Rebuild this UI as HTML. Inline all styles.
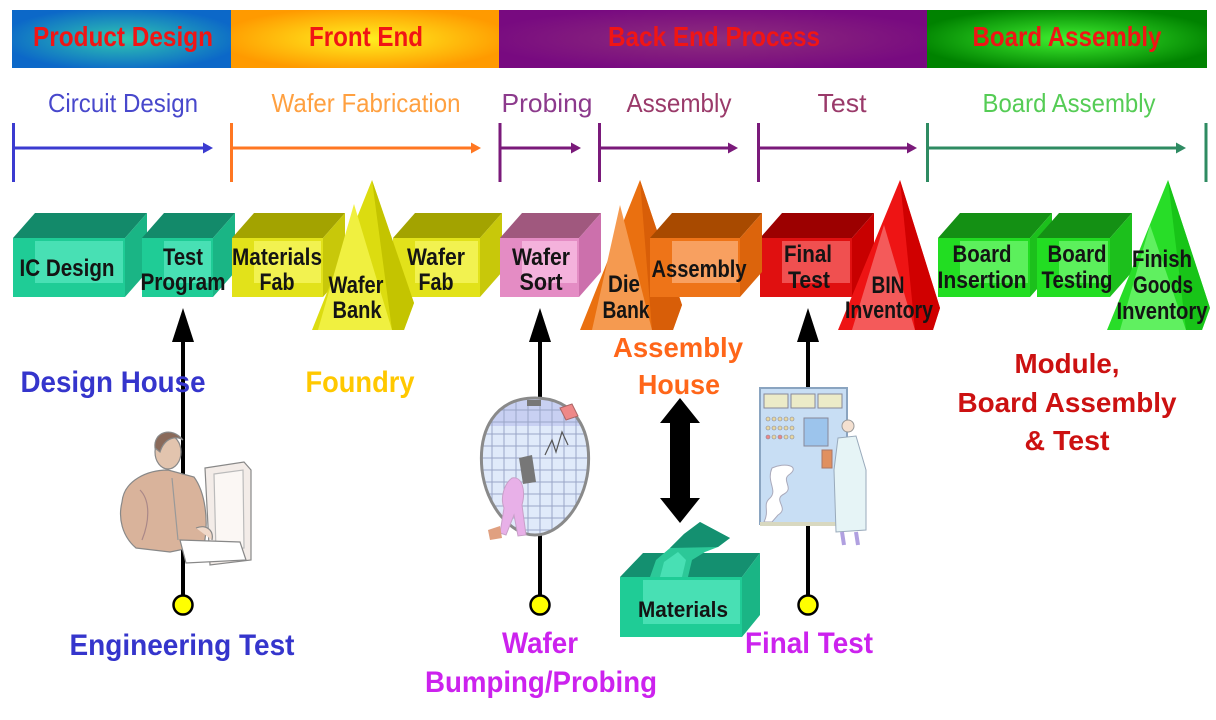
<!DOCTYPE html>
<html><head><meta charset="utf-8">
<style>
html,body{margin:0;padding:0;background:#fff;}
svg{display:block;}
text{font-family:"Liberation Sans",Arial,sans-serif;}
.h{font-size:28px;font-weight:bold;fill:#f01515;}
.s{font-size:26px;}
.b{font-size:24px;font-weight:bold;fill:#141414;}
.l{font-size:30px;font-weight:bold;}
.m{font-size:28px;font-weight:bold;}
</style></head><body>
<svg width="1216" height="720" viewBox="0 0 1216 720" xmlns="http://www.w3.org/2000/svg">
<defs>
<radialGradient id="gPD" cx=".5" cy=".5" r=".55"><stop offset="0" stop-color="#30c8b0"/><stop offset="1" stop-color="#0c68c8"/></radialGradient>
<radialGradient id="gFE" cx=".5" cy=".5" r=".55"><stop offset="0" stop-color="#fff020"/><stop offset="1" stop-color="#ff9a00"/></radialGradient>
<radialGradient id="gBE" cx=".5" cy=".5" r=".55"><stop offset="0" stop-color="#8e2e7c"/><stop offset="1" stop-color="#780a80"/></radialGradient>
<radialGradient id="gBA" cx=".5" cy=".5" r=".55"><stop offset="0" stop-color="#40f030"/><stop offset="1" stop-color="#008200"/></radialGradient>
<clipPath id="globe"><path d="M535,398 C575,398 592,430 588,470 C584,505 560,535 535,535 C510,535 486,505 482,470 C478,430 495,398 535,398 Z"/></clipPath>
</defs>

<!-- header bar -->
<rect x="12" y="10" width="219" height="58" fill="url(#gPD)"/>
<rect x="231" y="10" width="268" height="58" fill="url(#gFE)"/>
<rect x="499" y="10" width="428" height="58" fill="url(#gBE)"/>
<rect x="927" y="10" width="280" height="58" fill="url(#gBA)"/>
<text class="h" x="123" y="46" text-anchor="middle" textLength="180" lengthAdjust="spacingAndGlyphs">Product Design</text>
<text class="h" x="366" y="46" text-anchor="middle" textLength="114" lengthAdjust="spacingAndGlyphs">Front End</text>
<text class="h" x="714" y="46" text-anchor="middle" textLength="212" lengthAdjust="spacingAndGlyphs">Back End Process</text>
<text class="h" x="1067" y="46" text-anchor="middle" textLength="189" lengthAdjust="spacingAndGlyphs">Board Assembly</text>

<!-- sub labels -->
<text class="s" x="123" y="112" fill="#4848cc" text-anchor="middle" textLength="150" lengthAdjust="spacingAndGlyphs">Circuit Design</text>
<text class="s" x="366" y="112" fill="#ffa040" text-anchor="middle" textLength="189" lengthAdjust="spacingAndGlyphs">Wafer Fabrication</text>
<text class="s" x="547" y="112" fill="#8c3a8c" text-anchor="middle" textLength="91" lengthAdjust="spacingAndGlyphs">Probing</text>
<text class="s" x="679" y="112" fill="#9a3a6a" text-anchor="middle" textLength="105" lengthAdjust="spacingAndGlyphs">Assembly</text>
<text class="s" x="842" y="112" fill="#9a3a6a" text-anchor="middle" textLength="49" lengthAdjust="spacingAndGlyphs">Test</text>
<text class="s" x="1069" y="112" fill="#55cc55" text-anchor="middle" textLength="173" lengthAdjust="spacingAndGlyphs">Board Assembly</text>

<!-- timeline arrows -->
<g stroke-width="3" fill="none">
<path d="M13.5 123V182M13 148H204" stroke="#3b3bd0"/>
<path d="M231.5 123V182M231 148H472" stroke="#ff7722"/>
<path d="M500 123V182M500 148H572" stroke="#7a1a7a"/>
<path d="M599.5 123V182M599 148H729" stroke="#7a1a7a"/>
<path d="M758.5 123V182M758 148H908" stroke="#7a1a7a"/>
<path d="M927.5 123V182M927 148H1177M1206 123V182" stroke="#2e8b62"/>
</g>
<polygon points="213,148 203,142.5 203,153.5" fill="#3b3bd0"/>
<polygon points="481,148 471,142.5 471,153.5" fill="#ff7722"/>
<polygon points="581,148 571,142.5 571,153.5" fill="#7a1a7a"/>
<polygon points="738,148 728,142.5 728,153.5" fill="#7a1a7a"/>
<polygon points="917,148 907,142.5 907,153.5" fill="#7a1a7a"/>
<polygon points="1186,148 1176,142.5 1176,153.5" fill="#2e8b62"/>

<!-- boxes -->
<!-- IC Design -->
<g>
<polygon points="13,238 35,213 147,213 125,238" fill="#138a6a"/>
<polygon points="125,238 147,213 147,272 125,297" fill="#1ab585"/>
<rect x="13" y="238" width="112" height="59" fill="#1fcc96"/>
<rect x="35" y="241" width="88" height="42" fill="#48e0b4"/>
</g>
<!-- Test Program -->
<g>
<polygon points="142,238 164,213 235,213 213,238" fill="#138a6a"/>
<polygon points="213,238 235,213 235,272 213,297" fill="#1ab585"/>
<rect x="142" y="238" width="71" height="59" fill="#1fcc96"/>
<rect x="164" y="241" width="47" height="42" fill="#48e0b4"/>
</g>
<!-- Materials Fab -->
<g>
<polygon points="232,238 254,213 345,213 323,238" fill="#a3a300"/>
<polygon points="323,238 345,213 345,272 323,297" fill="#c8c80a"/>
<rect x="232" y="238" width="91" height="59" fill="#e2e21a"/>
<rect x="254" y="241" width="67" height="42" fill="#f2f250"/>
</g>
<!-- Wafer Fab -->
<g>
<polygon points="393,238 415,213 502,213 480,238" fill="#a3a300"/>
<polygon points="480,238 502,213 502,272 480,297" fill="#c8c80a"/>
<rect x="393" y="238" width="87" height="59" fill="#e2e21a"/>
<rect x="415" y="241" width="63" height="42" fill="#f2f250"/>
</g>
<!-- Wafer Sort -->
<g>
<polygon points="500,238 522,213 601,213 579,238" fill="#a0587e"/>
<polygon points="579,238 601,213 601,272 579,297" fill="#cc70ac"/>
<rect x="500" y="238" width="79" height="59" fill="#e48cc4"/>
<rect x="522" y="241" width="55" height="42" fill="#f4b2dc"/>
</g>
<!-- Final Test -->
<g>
<polygon points="760,238 782,213 874,213 852,238" fill="#9c0000"/>
<polygon points="852,238 874,213 874,272 852,297" fill="#c80000"/>
<rect x="760" y="238" width="92" height="59" fill="#e01010"/>
<rect x="782" y="241" width="68" height="42" fill="#f05050"/>
</g>
<!-- Board Insertion -->
<g>
<polygon points="938,238 960,213 1052,213 1030,238" fill="#149014"/>
<polygon points="1030,238 1052,213 1052,272 1030,297" fill="#1cc01c"/>
<rect x="938" y="238" width="92" height="59" fill="#22dd22"/>
<rect x="960" y="241" width="68" height="42" fill="#5cf05c"/>
</g>
<!-- Board Testing -->
<g>
<polygon points="1037,238 1059,213 1132,213 1110,238" fill="#149014"/>
<polygon points="1110,238 1132,213 1132,272 1110,297" fill="#1cc01c"/>
<rect x="1037" y="238" width="73" height="59" fill="#22dd22"/>
<rect x="1059" y="241" width="49" height="42" fill="#5cf05c"/>
</g>

<!-- triangles -->
<polygon points="312,330 372,180 414,303 404,330" fill="#dcdc10"/>
<polygon points="372,180 414,303 404,330 392,330" fill="#c4c400"/>
<polygon points="318,330 354,204 392,330" fill="#f0f040"/>

<polygon points="580,330 640,180 682,305 673,330" fill="#ea7010"/>
<polygon points="640,180 682,305 673,330 652,330" fill="#d85e08"/>
<polygon points="592,330 620,205 652,330" fill="#f59a50"/>

<!-- Assembly box (in front of Die Bank) -->
<g>
<polygon points="650,238 672,213 762,213 740,238" fill="#a84a00"/>
<polygon points="740,238 762,213 762,272 740,297" fill="#dc640c"/>
<rect x="650" y="238" width="90" height="59" fill="#ee7418"/>
<rect x="672" y="241" width="66" height="42" fill="#f8a060"/>
</g>

<polygon points="838,330 900,180 940,308 933,330" fill="#ee1414"/>
<polygon points="900,180 940,308 933,330 915,330" fill="#d00000"/>
<polygon points="852,330 884,225 915,330" fill="#f45a5a"/>

<polygon points="1107,330 1168,180 1210,308 1202,330" fill="#28dd28"/>
<polygon points="1168,180 1210,308 1202,330 1186,330" fill="#18c418"/>
<polygon points="1120,330 1150,225 1186,330" fill="#60f060"/>

<!-- box labels -->
<g class="b" text-anchor="middle" lengthAdjust="spacingAndGlyphs">
<text class="b" x="67" y="276" textLength="95" lengthAdjust="spacingAndGlyphs">IC Design</text>
<text class="b" x="183" y="265" textLength="40" lengthAdjust="spacingAndGlyphs">Test</text>
<text class="b" x="183" y="290" textLength="85" lengthAdjust="spacingAndGlyphs">Program</text>
<text class="b" x="277" y="265" textLength="90" lengthAdjust="spacingAndGlyphs">Materials</text>
<text class="b" x="277" y="290" textLength="35" lengthAdjust="spacingAndGlyphs">Fab</text>
<text class="b" x="356" y="293" textLength="55" lengthAdjust="spacingAndGlyphs">Wafer</text>
<text class="b" x="357" y="318" textLength="49" lengthAdjust="spacingAndGlyphs">Bank</text>
<text class="b" x="436" y="265" textLength="58" lengthAdjust="spacingAndGlyphs">Wafer</text>
<text class="b" x="436" y="290" textLength="35" lengthAdjust="spacingAndGlyphs">Fab</text>
<text class="b" x="541" y="265" textLength="58" lengthAdjust="spacingAndGlyphs">Wafer</text>
<text class="b" x="541" y="290" textLength="43" lengthAdjust="spacingAndGlyphs">Sort</text>
<text class="b" x="624" y="292" textLength="32" lengthAdjust="spacingAndGlyphs">Die</text>
<text class="b" x="626" y="318" textLength="47" lengthAdjust="spacingAndGlyphs">Bank</text>
<text class="b" x="699" y="277" textLength="95" lengthAdjust="spacingAndGlyphs">Assembly</text>
<text class="b" x="808" y="262" textLength="48" lengthAdjust="spacingAndGlyphs">Final</text>
<text class="b" x="809" y="288" textLength="42" lengthAdjust="spacingAndGlyphs">Test</text>
<text class="b" x="888" y="293" textLength="33" lengthAdjust="spacingAndGlyphs">BIN</text>
<text class="b" x="889" y="318" textLength="88" lengthAdjust="spacingAndGlyphs">Inventory</text>
<text class="b" x="982" y="262" textLength="59" lengthAdjust="spacingAndGlyphs">Board</text>
<text class="b" x="982" y="288" textLength="89" lengthAdjust="spacingAndGlyphs">Insertion</text>
<text class="b" x="1077" y="262" textLength="59" lengthAdjust="spacingAndGlyphs">Board</text>
<text class="b" x="1077" y="288" textLength="71" lengthAdjust="spacingAndGlyphs">Testing</text>
<text class="b" x="1162" y="267" textLength="60" lengthAdjust="spacingAndGlyphs">Finish</text>
<text class="b" x="1163" y="293" textLength="60" lengthAdjust="spacingAndGlyphs">Goods</text>
<text class="b" x="1162" y="319" textLength="91" lengthAdjust="spacingAndGlyphs">Inventory</text>
</g>

<!-- vertical black arrows -->
<g stroke="#000" stroke-width="4">
<line x1="183" y1="338" x2="183" y2="486"/>
<line x1="183" y1="541" x2="183" y2="596"/>
<line x1="540" y1="338" x2="540" y2="400"/>
<line x1="540" y1="533" x2="540" y2="596"/>
<line x1="808" y1="338" x2="808" y2="390"/>
<line x1="808" y1="524" x2="808" y2="596"/>
</g>
<polygon points="183,308 172,342 194,342" fill="#000"/>
<polygon points="540,308 529,342 551,342" fill="#000"/>
<polygon points="808,308 797,342 819,342" fill="#000"/>
<g fill="#ffff00" stroke="#000" stroke-width="2.5">
<circle cx="183" cy="605" r="9.5"/>
<circle cx="540" cy="605" r="9.5"/>
<circle cx="808" cy="605" r="9.5"/>
</g>

<!-- man at computer clipart -->
<g stroke="#888" stroke-width="1.2">
<path d="M205,468 L244,462 L251,470 L251,560 L210,565 Z" fill="#f3ece8"/>
<path d="M214,474 L243,470 L244,548 L216,552 Z" fill="#fbf7f4" stroke="#bbb"/>
<path d="M122,502 C124,480 148,470 168,470 L194,477 C205,492 209,520 204,545 L170,552 L136,548 C122,536 118,518 122,502 Z" fill="#d9b39b"/>
<path d="M140,490 C150,500 150,520 142,540" fill="none" stroke="#a88"/>
<path d="M172,478 L178,540" fill="none" stroke="#999"/>
<ellipse cx="168" cy="452" rx="13" ry="17" fill="#e2c4ae"/>
<path d="M155,448 C153,432 172,426 183,440 C178,436 165,436 160,452 Z" fill="#8a6a5a"/>
<path d="M180,540 L240,542 L246,560 L186,563 Z" fill="#fff"/>
<path d="M196,528 C206,524 214,530 212,540" fill="#f0d8c8"/>
</g>

<!-- globe clipart -->
<g>
<path d="M535,398 C575,398 592,430 588,470 C584,505 560,535 535,535 C510,535 486,505 482,470 C478,430 495,398 535,398 Z" fill="#e0eafa"/>
<g clip-path="url(#globe)" stroke="#9aa6c8" stroke-width="1">
<rect x="480" y="396" width="110" height="30" fill="#c8d0f2" stroke="none"/>
<path d="M480,410H590M480,422H590M480,434H590M480,446H590M480,458H590M480,470H590M480,482H590M480,494H590M480,506H590M480,518H590M480,530H590"/>
<path d="M492,396V540M504,396V540M516,396V540M528,396V540M540,396V540M552,396V540M564,396V540M576,396V540"/>
</g>
<path d="M535,398 C575,398 592,430 588,470 C584,505 560,535 535,535 C510,535 486,505 482,470 C478,430 495,398 535,398 Z" fill="none" stroke="#8a8a8a" stroke-width="3"/>
<path d="M545,455 L552,440 L556,452 L562,432 L568,445" fill="none" stroke="#555" stroke-width="1.2"/>
<polygon points="519,458 532,455 536,482 523,484" fill="#777"/>
<path d="M512,478 C522,476 526,490 522,505 L526,535 L518,536 L514,515 L506,535 L500,533 L504,508 C500,498 504,484 512,478 Z" fill="#e8b0e8" stroke="#c8a0c8"/>
<path d="M488,530 L500,526 L502,538 L490,540 Z" fill="#e0a080"/>
<polygon points="560,408 572,404 578,416 566,420" fill="#e88" stroke="#a66"/>
<rect x="527" y="400" width="14" height="6" fill="#777"/>
</g>

<!-- test equipment clipart -->
<g>
<rect x="760" y="388" width="87" height="136" fill="#c8def4" stroke="#8aa4c0" stroke-width="2"/>
<rect x="764" y="394" width="24" height="14" fill="#ecebc8" stroke="#889"/>
<rect x="791" y="394" width="24" height="14" fill="#ecebc8" stroke="#889"/>
<rect x="818" y="394" width="24" height="14" fill="#ecebc8" stroke="#889"/>
<g fill="#e8d8a0" stroke="#889" stroke-width=".6">
<circle cx="768" cy="419" r="2"/><circle cx="774" cy="419" r="2"/><circle cx="780" cy="419" r="2"/><circle cx="786" cy="419" r="2"/><circle cx="792" cy="419" r="2"/>
<circle cx="768" cy="428" r="2"/><circle cx="774" cy="428" r="2"/><circle cx="780" cy="428" r="2"/><circle cx="786" cy="428" r="2"/><circle cx="792" cy="428" r="2"/>
<circle cx="768" cy="437" r="2" fill="#e88"/><circle cx="774" cy="437" r="2"/><circle cx="780" cy="437" r="2" fill="#e88"/><circle cx="786" cy="437" r="2"/><circle cx="792" cy="437" r="2"/>
</g>
<rect x="804" y="418" width="24" height="28" fill="#9cc4ec" stroke="#889"/>
<path d="M772,468 C785,462 800,466 790,474 C780,480 795,488 784,494 C772,500 790,508 778,515 L772,522 L764,522 C770,510 762,505 770,498 C778,490 766,482 772,468 Z" fill="#fff" stroke="#aab"/>
<rect x="760" y="522" width="90" height="4" fill="#d8d8c0"/>
<circle cx="848" cy="426" r="6" fill="#f4e0d0" stroke="#999"/>
<path d="M838,438 L856,436 L866,470 L866,530 L836,532 L834,470 Z" fill="#e6f4f6" stroke="#9ab"/>
<rect x="822" y="450" width="10" height="18" fill="#e09060" stroke="#a76"/>
<path d="M842,532 L844,545 M856,532 L858,545" stroke="#b0a0e0" stroke-width="4"/>
</g>

<!-- double arrow -->
<path d="M680,398 L700,423 L690,423 L690,498 L700,498 L680,523 L660,498 L670,498 L670,423 L660,423 Z" fill="#000"/>

<!-- materials box -->
<g>
<polygon points="620,577 643,553 760,553 742,577" fill="#149070"/>
<polygon points="742,577 760,553 760,615 742,637" fill="#1ab585"/>
<rect x="620" y="577" width="122" height="60" fill="#1fcc96"/>
<rect x="643" y="580" width="97" height="44" fill="#48e0b4"/>
<polygon points="650,577 656,560 670,548 684,534 700,522 730,538 718,547 705,552 692,560 688,577" fill="#2cc898"/>
<polygon points="670,548 684,534 700,522 730,538 718,547" fill="#149070"/>
<polygon points="660,577 664,562 678,552 686,560 682,577" fill="#48e0b4"/>
</g>
<text class="b" x="683" y="617" text-anchor="middle" textLength="90" lengthAdjust="spacingAndGlyphs" style="font-size:22px">Materials</text>

<!-- lower labels -->
<text class="l" x="113" y="392" fill="#3535cc" text-anchor="middle" textLength="185" lengthAdjust="spacingAndGlyphs">Design House</text>
<text class="l" x="360" y="392" fill="#ffc800" text-anchor="middle" textLength="109" lengthAdjust="spacingAndGlyphs">Foundry</text>
<text class="m" x="678" y="357" fill="#ff6619" text-anchor="middle" textLength="130" lengthAdjust="spacingAndGlyphs">Assembly</text>
<text class="m" x="679" y="394" fill="#ff6619" text-anchor="middle" textLength="82" lengthAdjust="spacingAndGlyphs">House</text>
<text class="m" x="1067" y="373" fill="#cc1111" text-anchor="middle" textLength="105" lengthAdjust="spacingAndGlyphs">Module,</text>
<text class="m" x="1067" y="412" fill="#cc1111" text-anchor="middle" textLength="219" lengthAdjust="spacingAndGlyphs">Board Assembly</text>
<text class="m" x="1067" y="450" fill="#cc1111" text-anchor="middle" textLength="85" lengthAdjust="spacingAndGlyphs">&amp; Test</text>
<text class="l" x="182" y="655" fill="#3535cc" text-anchor="middle" textLength="225" lengthAdjust="spacingAndGlyphs">Engineering Test</text>
<text class="l" x="540" y="653" fill="#cc22ee" text-anchor="middle" textLength="76" lengthAdjust="spacingAndGlyphs">Wafer</text>
<text class="l" x="541" y="692" fill="#cc22ee" text-anchor="middle" textLength="232" lengthAdjust="spacingAndGlyphs">Bumping/Probing</text>
<text class="l" x="809" y="653" fill="#cc22ee" text-anchor="middle" textLength="128" lengthAdjust="spacingAndGlyphs">Final Test</text>
</svg>
</body></html>
